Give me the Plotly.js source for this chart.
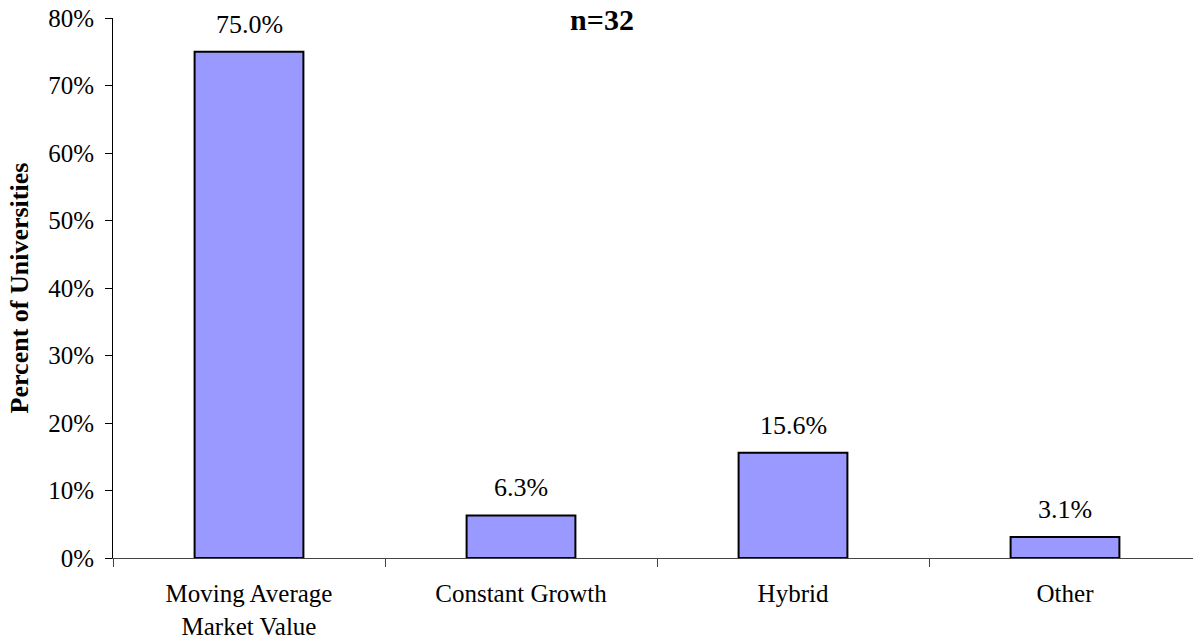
<!DOCTYPE html>
<html>
<head>
<meta charset="utf-8">
<script src="https://cdn.plot.ly/plotly-3.0.1.min.js"></script>
<style>
  html, body { margin: 0; padding: 0; background: #ffffff; }
  #chart { width: 1193px; height: 643px; }
</style>
</head>
<body>
<div id="chart"></div>
<script>
// Spending-policy methods reported by universities (n=32)
const categories = ["Moving Average<br>Market Value", "Constant Growth", "Hybrid", "Other"];
const percentValues = [75.0, 6.3, 15.6, 3.1];
const yTickValues = [0, 10, 20, 30, 40, 50, 60, 70, 80];
const yTickLabels = ["0%", "10%", "20%", "30%", "40%", "50%", "60%", "70%", "80%"];

const serif = "'Liberation Serif', 'Times New Roman', serif";

const barTrace = {
  type: "bar",
  x: categories,
  y: percentValues,
  width: 0.4,
  marker: { color: "#9999ff", line: { color: "#000000", width: 2 } },
  hoverinfo: "skip"
};

// Value labels above each bar
const valueLabels = categories.map((c, i) => ({
  x: c,
  y: percentValues[i],
  xref: "x",
  yref: "y",
  text: percentValues[i].toFixed(1) + "%",
  showarrow: false,
  yanchor: "bottom",
  yshift: 11,
  font: { family: serif, size: 26, color: "#000000" }
}));

const layout = {
  width: 1193,
  height: 643,
  paper_bgcolor: "#ffffff",
  plot_bgcolor: "#ffffff",
  margin: { l: 113, r: 0, t: 18, b: 85 },
  showlegend: false,
  font: { family: serif, size: 26, color: "#000000" },
  title: {
    text: "<b>n=32</b>",
    font: { family: serif, size: 30, color: "#000000" },
    x: 602 / 1193,
    xanchor: "center",
    xref: "container",
    yref: "container",
    y: 0.970,
    yanchor: "middle"
  },
  xaxis: {
    type: "category",
    range: [-0.5, 3.4706],
    tickson: "boundaries",
    ticks: "outside",
    ticklen: 8,
    tickcolor: "#444444",
    showline: true,
    linecolor: "#444444",
    linewidth: 1,
    showgrid: false,
    zeroline: false,
    tickfont: { family: serif, size: 25, color: "#000000" },
    ticklabelstandoff: 13
  },
  yaxis: {
    range: [0, 80],
    tickvals: yTickValues,
    ticktext: yTickLabels,
    ticks: "outside",
    ticklen: 7,
    tickcolor: "#000000",
    showline: true,
    linecolor: "#000000",
    linewidth: 1,
    showgrid: false,
    zeroline: false,
    tickfont: { family: serif, size: 25, color: "#000000" },
    ticklabelstandoff: 6,
    title: {
      text: "<b>Percent of Universities</b>",
      font: { family: serif, size: 26, color: "#000000" },
      standoff: 12
    }
  },
  annotations: valueLabels
};

Plotly.newPlot("chart", [barTrace], layout, { displayModeBar: false, staticPlot: true });
</script>
</body>
</html>
